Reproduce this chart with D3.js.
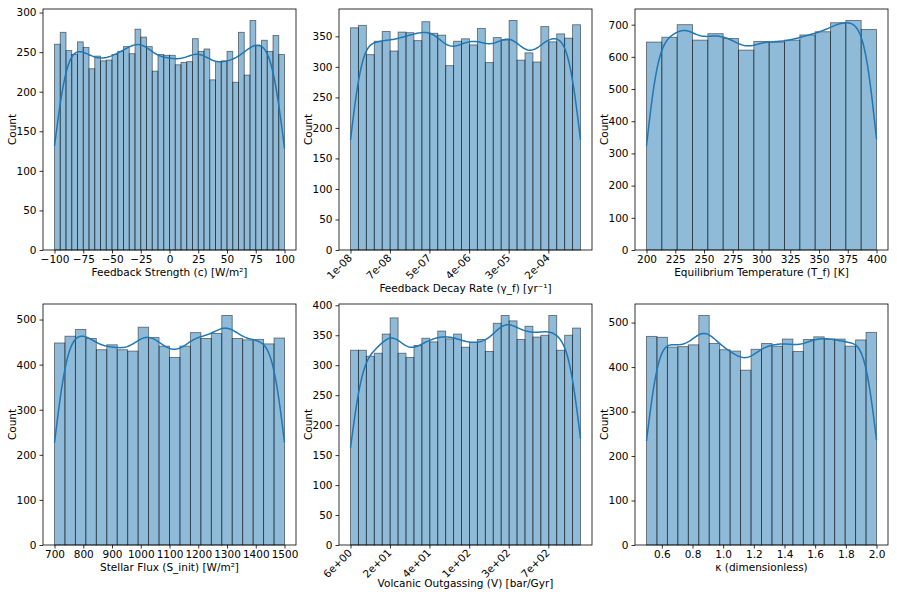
<!DOCTYPE html>
<html>
<head>
<meta charset="utf-8">
<script src="https://cdn.jsdelivr.net/npm/d3@7/dist/d3.min.js"></script>
<style>
body { margin: 0; background: #fff; }
text { font-family: "DejaVu Sans", sans-serif; fill: #000; }
.tick line { stroke: #000; stroke-width: 0.8; }
</style>
</head>
<body>
<svg id="chart" width="897" height="598"></svg>
<script>
// counts per bin
const strengthCounts = [260, 275, 252, 247, 263, 256, 229, 245, 239, 240, 247, 251, 257, 248, 279, 269, 257, 226, 247, 246,
                        246, 234, 237, 238, 267, 251, 254, 215, 238, 239, 251, 212, 275, 221, 290, 258, 265, 251, 271, 247];
const decayCounts = [364, 368, 320, 342, 358, 326, 357, 356, 343, 374, 355, 352, 302, 342, 346, 336, 363, 307, 348, 344,
                     376, 311, 323, 308, 366, 341, 354, 347, 369];
const tempCounts = [646, 661, 700, 652, 672, 657, 621, 648, 646, 652, 668, 678, 706, 713, 685];
const fluxCounts = [448, 463, 478, 458, 433, 444, 433, 430, 483, 460, 441, 416, 441, 471, 458, 469, 509, 458, 455, 456, 446, 459];
const volcCounts = [325, 325, 315, 320, 352, 379, 320, 313, 333, 345, 339, 357, 344, 352, 330, 338, 343, 323, 370, 383,
                    374, 343, 365, 347, 350, 383, 325, 350, 362];
const kappaCounts = [469, 467, 445, 446, 450, 516, 453, 439, 436, 393, 440, 453, 447, 463, 435, 462, 468, 463, 463, 447, 461, 478];

// tick values and labels
const strengthTicks = [-100, -75, -50, -25, 0, 25, 50, 75, 100];
const decayTicks = [1e-8, 7.2e-8, 5.2e-7, 3.8e-6, 2.75e-5, 2.0e-4];
const decayTickLabels = ["1e-08", "7e-08", "5e-07", "4e-06", "3e-05", "2e-04"];
const tempTicks = [200, 225, 250, 275, 300, 325, 350, 375, 400];
const fluxTicks = [700, 800, 900, 1000, 1100, 1200, 1300, 1400, 1500];
const volcTicks = [6, 15.5, 40, 104, 269, 697];
const volcTickLabels = ["6e+00", "2e+01", "4e+01", "1e+02", "3e+02", "7e+02"];
const kappaTicks = [0.6, 0.8, 1.0, 1.2, 1.4, 1.6, 1.8, 2.0];

const strengthY = [0, 50, 100, 150, 200, 250, 300];
const decayY = [0, 50, 100, 150, 200, 250, 300, 350];
const tempY = [0, 100, 200, 300, 400, 500, 600, 700];
const fluxY = [0, 100, 200, 300, 400, 500];
const volcY = [0, 50, 100, 150, 200, 250, 300, 350, 400];
const kappaY = [0, 100, 200, 300, 400, 500];

const panels = [
  {counts: strengthCounts, lo: -100, hi: 100, log: false, xt: strengthTicks, xl: null, yt: strengthY,
   label: "Feedback Strength (c) [W/m²]", box: [43, 9, 296, 250]},
  {counts: decayCounts, lo: 1e-8, hi: 1e-3, log: true, xt: decayTicks, xl: decayTickLabels, yt: decayY,
   label: "Feedback Decay Rate (γ_f) [yr⁻¹]", box: [339, 9, 592, 250]},
  {counts: tempCounts, lo: 200, hi: 400, log: false, xt: tempTicks, xl: null, yt: tempY,
   label: "Equilibrium Temperature (T_f) [K]", box: [635, 9, 888, 250]},
  {counts: fluxCounts, lo: 700, hi: 1500, log: false, xt: fluxTicks, xl: null, yt: fluxY,
   label: "Stellar Flux (S_init) [W/m²]", box: [43, 304, 296, 545]},
  {counts: volcCounts, lo: 6, hi: 1510, log: true, xt: volcTicks, xl: volcTickLabels, yt: volcY,
   label: "Volcanic Outgassing (V) [bar/Gyr]", box: [339, 304, 592, 545]},
  {counts: kappaCounts, lo: 0.5, hi: 2.0, log: false, xt: kappaTicks, xl: null, yt: kappaY,
   label: "κ (dimensionless)", box: [635, 304, 888, 545]}
];

const svg = d3.select("#chart");
const blue = "#1f77b4";
const fs = 10.5;

panels.forEach(function(p) {
  const [L, T, R, B] = p.box;
  const g = svg.append("g");
  const n = p.counts.length;
  // work in log10 space for log panels
  const a = p.log ? Math.log10(p.lo) : p.lo;
  const b = p.log ? Math.log10(p.hi) : p.hi;
  const w = (b - a) / n;
  const pad = (b - a) * 0.05;
  const back = p.log ? function(t) { return Math.pow(10, t); } : function(t) { return t; };

  const x = (p.log ? d3.scaleLog() : d3.scaleLinear())
      .domain([back(a - pad), back(b + pad)]).range([L, R]);
  const ymax = d3.max(p.counts) * 1.05;
  const y = d3.scaleLinear().domain([0, ymax]).range([B, T]);

  const bins = p.counts.map(function(c, i) {
    return {x0: back(a + i * w), x1: back(a + (i + 1) * w), c: c};
  });

  g.selectAll("rect.bar").data(bins).enter().append("rect")
    .attr("class", "bar")
    .attr("x", d => x(d.x0))
    .attr("width", d => x(d.x1) - x(d.x0))
    .attr("y", d => y(d.c))
    .attr("height", d => y(0) - y(d.c))
    .attr("fill", blue).attr("fill-opacity", 0.5)
    .attr("stroke", "#000").attr("stroke-opacity", 0.5).attr("stroke-width", 0.9);

  // gaussian kde on the binned values, Scott bandwidth, cut at data range
  const N = d3.sum(p.counts);
  const mids = p.counts.map((c, i) => a + (i + 0.5) * w);
  const mean = d3.sum(mids, (m, i) => m * p.counts[i]) / N;
  const sd = Math.sqrt(d3.sum(mids, (m, i) => p.counts[i] * (m - mean) * (m - mean)) / (N - 1));
  const bw = sd * Math.pow(N, -0.2);
  const grid = d3.range(201).map(k => a + (b - a) * k / 200);
  const kde = grid.map(function(t) {
    let s = 0;
    for (let i = 0; i < n; i++) {
      const z = (t - mids[i]) / bw;
      s += p.counts[i] * Math.exp(-0.5 * z * z);
    }
    return [back(t), s / (bw * Math.sqrt(2 * Math.PI)) * w];
  });
  g.append("path").datum(kde)
    .attr("d", d3.line().x(d => x(d[0])).y(d => y(d[1])))
    .attr("fill", "none").attr("stroke", blue).attr("stroke-width", 1.5);

  // frame
  g.append("rect").attr("x", L).attr("y", T).attr("width", R - L).attr("height", B - T)
    .attr("fill", "none").attr("stroke", "#000").attr("stroke-width", 0.8);

  const ya = g.append("g").attr("transform", "translate(" + L + ",0)")
    .call(d3.axisLeft(y).tickValues(p.yt).tickSize(3.5).tickPadding(3).tickSizeOuter(0));
  ya.select(".domain").remove();
  ya.selectAll("text").attr("font-size", fs).attr("font-family", "DejaVu Sans");

  const xa = g.append("g").attr("transform", "translate(0," + B + ")")
    .call(d3.axisBottom(x).tickValues(p.xt).tickSize(3.5).tickPadding(2).tickSizeOuter(0)
      .tickFormat(p.xl ? ((d, i) => p.xl[i]) : (p.lo === 0.5 ? d3.format(".1f") : d3.format("d"))));
  xa.select(".domain").remove();
  xa.selectAll("text").attr("font-size", fs).attr("font-family", "DejaVu Sans");
  if (p.xl) {
    xa.selectAll("text")
      .attr("text-anchor", "end")
      .attr("y", 0).attr("dy", 0)
      .attr("transform", "translate(1.7,8.5) rotate(-45)");
  }

  g.append("text").attr("x", (L + R) / 2).attr("y", p.xl ? B + 41.5 : B + 26)
    .attr("text-anchor", "middle").attr("font-size", fs).text(p.label);
  g.append("text")
    .attr("transform", "translate(" + (L - 27) + "," + ((T + B) / 2) + ") rotate(-90)")
    .attr("text-anchor", "middle").attr("font-size", fs).text("Count");
});
</script>
</body>
</html>
